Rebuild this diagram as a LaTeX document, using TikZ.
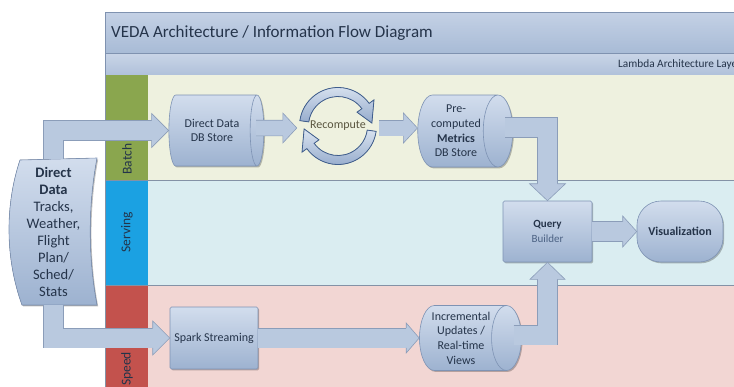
\documentclass[tikz,border=0pt]{standalone}
\usepackage{fontspec}
\setmainfont{Carlito}
\usetikzlibrary{shapes.geometric,shadows,calc}

% palette
\definecolor{ink}{HTML}{25344A}
\definecolor{builderink}{HTML}{4C6284}
\definecolor{recink}{HTML}{5A5640}
\definecolor{lanetext}{HTML}{23344A}
\definecolor{bandtop}{HTML}{C4D1E5}
\definecolor{bandbot}{HTML}{A8BBD6}
\definecolor{band2top}{HTML}{C9D5E7}
\definecolor{band2bot}{HTML}{B0C1DA}
\definecolor{bandedge}{HTML}{7F92B0}
\definecolor{batchbg}{HTML}{EEF1DF}
\definecolor{batchstrip}{HTML}{8AA64E}
\definecolor{servebg}{HTML}{DAEDF1}
\definecolor{servestrip}{HTML}{1BA1E2}
\definecolor{speedbg}{HTML}{F2D6D3}
\definecolor{speedstrip}{HTML}{C3524D}
\definecolor{laneline}{HTML}{8492A6}
\definecolor{nodetop}{HTML}{D2DDED}
\definecolor{nodebot}{HTML}{9DB2D0}
\definecolor{nodeedge}{HTML}{7E93B4}
\definecolor{arrowfill}{HTML}{B9C9DF}
\definecolor{arrowedge}{HTML}{8B9DB9}
\definecolor{ringtop}{HTML}{D9E3F0}
\definecolor{ringbot}{HTML}{95ABCC}
\definecolor{ringedge}{HTML}{3F5E8E}

% arrow head of a block arrow: tip coordinate, direction, shaft half width, head half width, head length
\newcommand{\flowhead}[5]{%
  \begin{scope}[shift={(#1)},rotate=#2]
    \filldraw[headpaint] (-#5,-#3) -- (-#5,-#4) -- (0,0) -- (-#5,#4) -- (-#5,#3);
  \end{scope}}

\begin{document}
\begin{tikzpicture}[x=1pt,y=-1pt,
  boxpaint/.style={top color=nodetop, bottom color=nodebot, draw=nodeedge, line width=0.6pt},
  softshadow/.style={drop shadow={shadow xshift=1.2pt, shadow yshift=-1.4pt, opacity=0.25, fill=black}},
  boxtext/.style={font=\fontsize{12}{14.6}\selectfont, text=ink, align=center},
  store/.style={cylinder, shape aspect=0.55, boxpaint, softshadow, boxtext, inner sep=1pt},
  proc/.style={rectangle, rounded corners=1.5pt, boxpaint, softshadow, boxtext},
  shaft/.style={draw=arrowedge, line width=0.6pt, double=arrowfill, double distance=#1},
  headpaint/.style={fill=arrowfill, draw=arrowedge, line width=0.6pt, line join=miter},
  ringpaint/.style={top color=ringtop, bottom color=ringbot, draw=ringedge, line width=0.8pt},
  lanelabel/.style={rotate=90, font=\fontsize{13.5}{16}\selectfont, text=lanetext},
]
\useasboundingbox (0,0) rectangle (734,386);
\clip (0,0) rectangle (734,386);

% title and layer bands
\shade[top color=bandtop, bottom color=bandbot, draw=bandedge, line width=0.8pt] (105,12) rectangle (790,53);
\shade[top color=band2top, bottom color=band2bot, draw=bandedge, line width=0.8pt] (105,53) rectangle (790,75);
\node[anchor=west, inner sep=0, font=\fontsize{17}{20}\selectfont, text=ink] (title) at (111,33) {VEDA Architecture / Information Flow Diagram};
\node[anchor=west, inner sep=0, font=\fontsize{11.3}{13}\selectfont, text=ink] (layer) at (618,64) {Lambda Architecture Layer};

% swim lanes
\fill[batchbg] (148,75) rectangle (790,180);
\fill[servebg] (148,180) rectangle (790,285);
\fill[speedbg] (148,285) rectangle (790,400);
\fill[batchstrip] (105,75) rectangle (148,180);
\fill[servestrip] (105,180) rectangle (148,285);
\fill[speedstrip] (105,285) rectangle (148,400);
\draw[laneline, line width=0.8pt] (105,180) -- (790,180) (105,285) -- (790,285) (105,75) -- (105,400);
\node[lanelabel] (batch) at (127,159) {Batch};
\node[lanelabel] (serving) at (127,232) {Serving};
\node[lanelabel] (speed) at (127,369) {Speed};

% source data sheet
\filldraw[boxpaint, softshadow] (20,160) -- (97,158) .. controls (88,205) and (88,258) .. (97,305)
  -- (22,305) .. controls (5,258) and (5,205) .. (20,160) -- cycle;
\node[font=\fontsize{14.5}{17}\selectfont, text=ink, align=center, minimum width=80pt, minimum height=146pt, inner sep=0] (data) at (53.5,232)
  {\textbf{Direct}\\\textbf{Data}\\Tracks,\\Weather,\\Flight\\Plan/\\Sched/\\Stats};

% recompute cycle
\begin{scope}[shift={(338,126)}, x=1pt, y=1pt]
  \filldraw[ringpaint] (172:38.5pt) arc[start angle=172, end angle=36, radius=38.5pt] -- (36:44.5pt) -- (5:34pt) -- (36:23.5pt) -- (36:29.5pt) arc[start angle=36, end angle=172, radius=29.5pt] -- cycle;
  \filldraw[ringpaint] (-8:38.5pt) arc[start angle=-8, end angle=-144, radius=38.5pt] -- (-144:44.5pt) -- (-175:34pt) -- (-144:23.5pt) -- (-144:29.5pt) arc[start angle=-144, end angle=-8, radius=29.5pt] -- cycle;
\end{scope}
\node[circle, minimum size=76pt, inner sep=0, font=\fontsize{12}{14}\selectfont, text=recink] (rec) at (338,126) {Recompute};

% stores and processes (a lying cylinder takes its length from minimum height)
\node[store, minimum height=95pt, minimum width=71pt] (dbs) at (212,130.5) {Direct Data\\DB Store};
\node[store, minimum height=95pt, minimum width=72pt] (pre) at (456,131) {Pre-\\computed\\\textbf{Metrics}\\DB Store};
\node[store, minimum height=95pt, minimum width=65pt] (inc) at (461,338) {Incremental\\Updates /\\Real-time\\Views};
\node[proc, minimum width=88pt, minimum height=62pt] (spark) at (214,338) {Spark Streaming};
\node[proc, minimum width=89pt, minimum height=61pt, font=\fontsize{11}{15}\selectfont] (qb) at (547.5,231.5) {\textbf{Query}\\\textcolor{builderink}{Builder}};
\node[rectangle, rounded corners=24pt, boxpaint, softshadow, boxtext, minimum width=86pt, minimum height=61pt] (vis) at (680,231.5) {\textbf{Visualization}};

% arrow tips
\coordinate (t-dbs) at (dbs.west);
\coordinate (t-spark) at (spark.west);
\coordinate (t-rec) at ($(rec.west)+(-3,2)$);
\coordinate (t-pre) at ($(pre.west)+(0,-3)$);
\coordinate (t-qbn) at (qb.north);
\coordinate (t-qbs) at (qb.south);
\coordinate (t-inc) at (inc.west);
\coordinate (t-vis) at (vis.west);

% block arrows
\draw[shaft=19pt] (data.north) |- ($(t-dbs)+(-16.5,0)$);
\flowhead{t-dbs}{0}{9.8}{17}{17}
\draw[shaft=19pt] (data.south) |- ($(t-spark)+(-16.5,0)$);
\flowhead{t-spark}{0}{9.8}{17}{17}
\draw[shaft=15pt] ($(dbs.east)+(-8,-2.5)$) -- ($(t-rec)+(-13.5,0)$);
\flowhead{t-rec}{0}{7.8}{15}{14}
\draw[shaft=15pt] ($(rec.east)+(3,2)$) -- ($(t-pre)+(-13.5,0)$);
\flowhead{t-pre}{0}{7.8}{15}{14}
\draw[shaft=19pt] ($(pre.east)+(-8,-3.5)$) -| ($(t-qbn)+(0,-16.5)$);
\flowhead{t-qbn}{-90}{9.8}{18}{17}
\draw[shaft=19pt] (spark.east) -- ($(t-inc)+(-12.5,0)$);
\flowhead{t-inc}{0}{9.8}{15}{13}
\draw[shaft=19pt] ($(inc.east)+(-8,-3)$) -| ($(t-qbs)+(0,16.5)$);
\flowhead{t-qbs}{90}{9.8}{17.5}{17}
\draw[shaft=19pt] (qb.east) -- ($(t-vis)+(-13.5,0)$);
\flowhead{t-vis}{0}{9.8}{15.5}{14}
\end{tikzpicture}
\end{document}
